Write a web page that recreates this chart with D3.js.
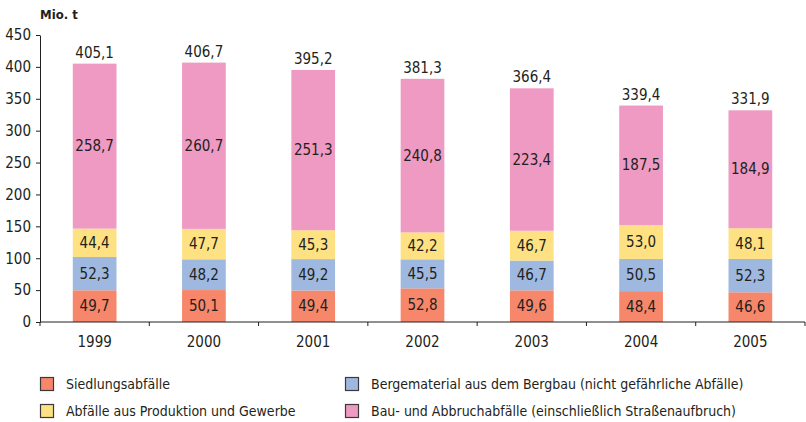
<!DOCTYPE html>
<html>
<head>
<meta charset="utf-8">
<script src="https://cdn.jsdelivr.net/npm/d3@7"></script>
<style>
  html, body { margin: 0; padding: 0; background: #fff; }
  svg text { font-family: "DejaVu Sans Condensed", "Liberation Sans Narrow", sans-serif; fill: #231f20; }
</style>
</head>
<body>
<svg id="chart" width="806" height="422"></svg>
<script>
// Abfallaufkommen in Deutschland, Mio. t
const years = ["1999", "2000", "2001", "2002", "2003", "2004", "2005"];
const siedlung = [49.7, 50.1, 49.4, 52.8, 49.6, 48.4, 46.6];
const bergbau = [52.3, 48.2, 49.2, 45.5, 46.7, 50.5, 52.3];
const produktion = [44.4, 47.7, 45.3, 42.2, 46.7, 53.0, 48.1];
const bau = [258.7, 260.7, 251.3, 240.8, 223.4, 187.5, 184.9];
const totals = [405.1, 406.7, 395.2, 381.3, 366.4, 339.4, 331.9];
const yTicks = [0, 50, 100, 150, 200, 250, 300, 350, 400, 450];

const seriesNames = [
  "Siedlungsabfälle",
  "Bergematerial aus dem Bergbau (nicht gefährliche Abfälle)",
  "Abfälle aus Produktion und Gewerbe",
  "Bau- und Abbruchabfälle (einschließlich Straßenaufbruch)"
];
const seriesColors = ["#f7876a", "#9fb8df", "#fde182", "#ee9ac3"];
const seriesValues = [siedlung, bergbau, produktion, bau];

const fmt = v => d3.format(".1f")(v).replace(".", ",");

const svg = d3.select("#chart");
const plotLeft = 40, plotRight = 805, plotTop = 35, plotBottom = 322;

const x = d3.scaleBand().domain(years).range([plotLeft, plotRight])
  .paddingInner(0.6).paddingOuter(0.3);
const y = d3.scaleLinear().domain([0, 450]).range([plotBottom, plotTop]);

// stack rows
const rows = years.map((yr, i) => {
  const r = { year: yr };
  seriesValues.forEach((s, k) => r["s" + k] = s[i]);
  return r;
});
const stack = d3.stack().keys(["s0", "s1", "s2", "s3"])(rows);

const g = svg.append("g");
stack.forEach((layer, k) => {
  const lg = g.append("g");
  lg.selectAll("rect").data(layer).enter().append("rect")
    .attr("x", d => x(d.data.year))
    .attr("width", x.bandwidth())
    .attr("y", d => y(d[1]))
    .attr("height", d => y(d[0]) - y(d[1]))
    .attr("fill", seriesColors[k]);
  lg.selectAll("text").data(layer).enter().append("text")
    .attr("x", d => x(d.data.year) + x.bandwidth() / 2)
    .attr("y", d => (y(d[0]) + y(d[1])) / 2)
    .attr("text-anchor", "middle")
    .attr("dominant-baseline", "central")
    .style("font-size", "15px")
    .text(d => fmt(d[1] - d[0]));
});

// totals above bars
g.selectAll("text.total").data(years).enter().append("text")
  .attr("class", "total")
  .attr("x", d => x(d) + x.bandwidth() / 2)
  .attr("y", (d, i) => y(totals[i]) - 6)
  .attr("text-anchor", "middle")
  .style("font-size", "15px")
  .text((d, i) => fmt(totals[i]));

// y axis
const yAxis = d3.axisLeft(y).tickValues(yTicks).tickSize(4).tickSizeOuter(0).tickPadding(5);
const ya = svg.append("g").attr("transform", `translate(${plotLeft},0)`).call(yAxis);
ya.select(".domain").attr("stroke", "#231f20");
ya.selectAll(".tick line").attr("stroke", "#231f20");
ya.selectAll(".tick text").style("font-size", "15px").attr("fill", "#231f20");

// x axis with ticks at band boundaries
const xa = svg.append("g").attr("transform", `translate(0,${plotBottom})`);
xa.append("line").attr("x1", plotLeft).attr("x2", plotRight).attr("y1", 0).attr("y2", 0)
  .attr("stroke", "#231f20");
const bounds = years.map(d => x(d) - x.step() * x.paddingInner() / 2).concat([plotRight]);
bounds[0] = plotLeft;
xa.selectAll("line.tick").data(bounds).enter().append("line")
  .attr("class", "tick")
  .attr("x1", d => d).attr("x2", d => d).attr("y1", 0).attr("y2", 4)
  .attr("stroke", "#231f20");
xa.selectAll("text").data(years).enter().append("text")
  .attr("x", d => x(d) + x.bandwidth() / 2)
  .attr("y", 25)
  .attr("text-anchor", "middle")
  .style("font-size", "15px")
  .text(d => d);

// unit label
svg.append("text").attr("x", 40).attr("y", 19)
  .style("font-size", "13px").style("font-weight", "bold")
  .text("Mio. t");

// legend
const legendPos = [[40, 384], [345, 384], [40, 411], [345, 411]];
const lgd = svg.append("g");
seriesNames.forEach((name, k) => {
  const [lx, ly] = legendPos[k];
  lgd.append("rect").attr("x", lx + 0.5).attr("y", ly - 7 + 0.5).attr("width", 13).attr("height", 13)
    .attr("fill", seriesColors[k]).attr("stroke", "#3a3a3a").attr("stroke-width", 1.2);
  lgd.append("text").attr("x", lx + 26).attr("y", ly)
    .attr("dominant-baseline", "central")
    .style("font-size", "14px")
    .text(name);
});
</script>
</body>
</html>
